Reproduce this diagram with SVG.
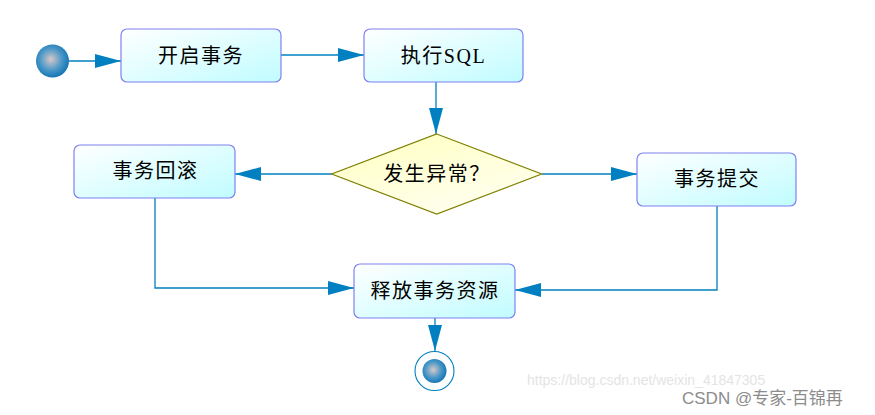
<svg xmlns="http://www.w3.org/2000/svg" width="875" height="415" viewBox="0 0 875 415">
<style>
.box{fill:url(#boxGrad);stroke:#8080F0;stroke-width:1.2}
.dia{fill:url(#diaGrad);stroke:#808000;stroke-width:1.2}
.lbl{font-family:"Liberation Serif","Noto Sans CJK SC",serif;font-size:20px;fill:#000;text-anchor:middle;letter-spacing:1.5px}
.conn{fill:none;stroke:#0080C0;stroke-width:1.3;marker-end:url(#arr)}
</style>
<defs>
<linearGradient id="boxGrad" x1="0" y1="0" x2="1" y2="1">
<stop offset="0" stop-color="#FFFFFF"/>
<stop offset="1" stop-color="#C0FCFF"/>
</linearGradient>
<linearGradient id="diaGrad" x1="0" y1="0" x2="0.6" y2="1">
<stop offset="0" stop-color="#FFFFC0"/>
<stop offset="1" stop-color="#FFFFEE"/>
</linearGradient>
<radialGradient id="ballGrad" cx="0.45" cy="0.45" r="0.6">
<stop offset="0" stop-color="#D8C8C8"/>
<stop offset="0.55" stop-color="#4C98C8"/>
<stop offset="1" stop-color="#0A70B0"/>
</radialGradient>
<marker id="arr" markerUnits="userSpaceOnUse" markerWidth="26" markerHeight="14" refX="26" refY="7" orient="auto">
<path d="M0,0 L26,7 L0,14 z" fill="#0080C0"/>
</marker>
</defs>
<rect width="875" height="415" fill="#FFFFFF"/>
<g id="connectors">
<path class="conn" d="M69,61 L121,61"/>
<path class="conn" d="M281,55 L364,55"/>
<path class="conn" d="M436,82 L436,134"/>
<path class="conn" d="M332,174 L235,174"/>
<path class="conn" d="M542,174 L637,174"/>
<path class="conn" d="M155,198 L155,288 L354,288"/>
<path class="conn" d="M717,206 L717,290 L515,290"/>
<path class="conn" d="M435,318 L435,351"/>
</g>
<g id="start">
<circle cx="52.5" cy="61" r="16.5" fill="url(#ballGrad)"/>
</g>
<g id="begin">
<rect class="box" x="121" y="29" width="160" height="53" rx="6"/>
<text class="lbl" x="201" y="63">开启事务</text>
</g>
<g id="exec">
<rect class="box" x="364" y="29" width="159" height="53" rx="6"/>
<text class="lbl" x="443.5" y="63">执行SQL</text>
</g>
<g id="decision">
<polygon class="dia" points="436.7,134 541.7,174 436.7,214 331.7,174"/>
<text class="lbl" x="437" y="181">发生异常？</text>
</g>
<g id="rollback">
<rect class="box" x="74" y="145" width="161" height="53" rx="6"/>
<text class="lbl" x="155.5" y="178">事务回滚</text>
</g>
<g id="commit">
<rect class="box" x="637" y="153" width="159" height="53" rx="6"/>
<text class="lbl" x="717" y="186">事务提交</text>
</g>
<g id="release">
<rect class="box" x="354" y="264" width="161" height="54" rx="6"/>
<text class="lbl" x="435" y="298">释放事务资源</text>
</g>
<g id="end">
<circle cx="434.5" cy="371" r="19.5" fill="#FFFFFF" stroke="#0080C0" stroke-width="1.1"/>
<circle cx="434.5" cy="371" r="12" fill="url(#ballGrad)"/>
</g>
<g id="watermark">
<text x="527" y="385" font-family="Liberation Sans,Arial,sans-serif" font-size="14" fill="#E4E4E4">https://blog.csdn.net/weixin_41847305</text>
<text x="682" y="404" font-family="Liberation Sans,'Noto Sans CJK SC',sans-serif" font-size="17" fill="#8C8C8C">CSDN @专家-百锦再</text>
</g>
</svg>
